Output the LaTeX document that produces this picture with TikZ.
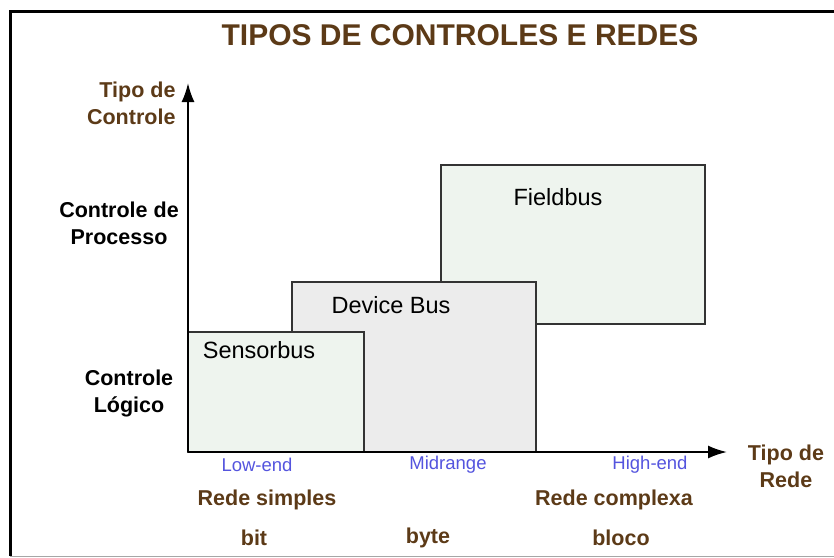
\documentclass[tikz,border=0pt]{standalone}
\usepackage{fontspec}
\setmainfont{Liberation Sans}
\usepackage{xcolor}
\usetikzlibrary{arrows.meta}
\definecolor{marrom}{RGB}{92,58,23}
\definecolor{azul}{RGB}{84,84,222}
\definecolor{verdeclaro}{RGB}{238,244,238}
\definecolor{cinzaclaro}{RGB}{236,236,236}

\begin{document}
\begin{tikzpicture}[x=1pt, y=-1pt, >={Latex[length=19pt,width=13pt]},
  caixa/.style={draw=black!80, line width=1.5pt},
  nomebus/.style={font=\fontsize{23.5}{27}\selectfont},
  eixotxt/.style={font=\fontsize{21.5}{27}\selectfont\bfseries, align=center},
  faixa/.style={font=\fontsize{18.5}{22}\selectfont, text=azul}]
  \useasboundingbox (0,0) rectangle (834,557);

  % Moldura
  \draw[line width=3pt] (834,11) -- (10,11) -- (10,556);
  \draw[black!35, line width=1pt] (10,556) -- (834,556);

  % Titulo
  \node[font=\fontsize{30}{34}\selectfont\bfseries, text=marrom] (titulo) at (460,35) {TIPOS DE CONTROLES E REDES};

  % Caixas
  \draw[caixa, fill=verdeclaro] (441,165) rectangle (705,324);
  \draw[caixa, fill=cinzaclaro] (292,282) rectangle (536,452);
  \draw[caixa, fill=verdeclaro] (188,332) rectangle (364,452);
  \node[nomebus] (field) at (558,197) {Fieldbus};
  \node[nomebus] (device) at (391,305) {Device Bus};
  \node[nomebus] (sensor) at (259,350) {Sensorbus};

  % Eixos
  \coordinate (origem) at (188,452);
  \coordinate (topo) at (188,83);
  \coordinate (fim) at (727,452);
  \draw[->, line width=2pt] (origem) -- (topo);
  \draw[->, line width=2pt] (origem) -- (fim);

  % Etiquetas do eixo vertical
  \node[eixotxt, text=marrom, align=right, anchor=east] (tipoctrl) at (179,103) {Tipo de\\Controle};
  \node[eixotxt] (processo) at (119,223) {Controle de\\Processo};
  \node[eixotxt] (logico) at (129,393) {Controle\\Lógico};

  % Etiquetas do eixo horizontal
  \node[eixotxt, text=marrom] (tiporede) at (786,466) {Tipo de\\Rede};
  \node[faixa] (low) at (257,465) {Low-end};
  \node[faixa] (mid) at (448,465) {Midrange};
  \node[faixa] (high) at (650,465) {High-end};
  \node[eixotxt, text=marrom] (simples) at (267,500) {Rede simples};
  \node[eixotxt, text=marrom] (complexa) at (614,500) {Rede complexa};
  \node[eixotxt, text=marrom] (bit) at (254,538) {bit};
  \node[eixotxt, text=marrom] (byte) at (428,538) {byte};
  \node[eixotxt, text=marrom] (bloco) at (621,538) {bloco};
\end{tikzpicture}
\end{document}
